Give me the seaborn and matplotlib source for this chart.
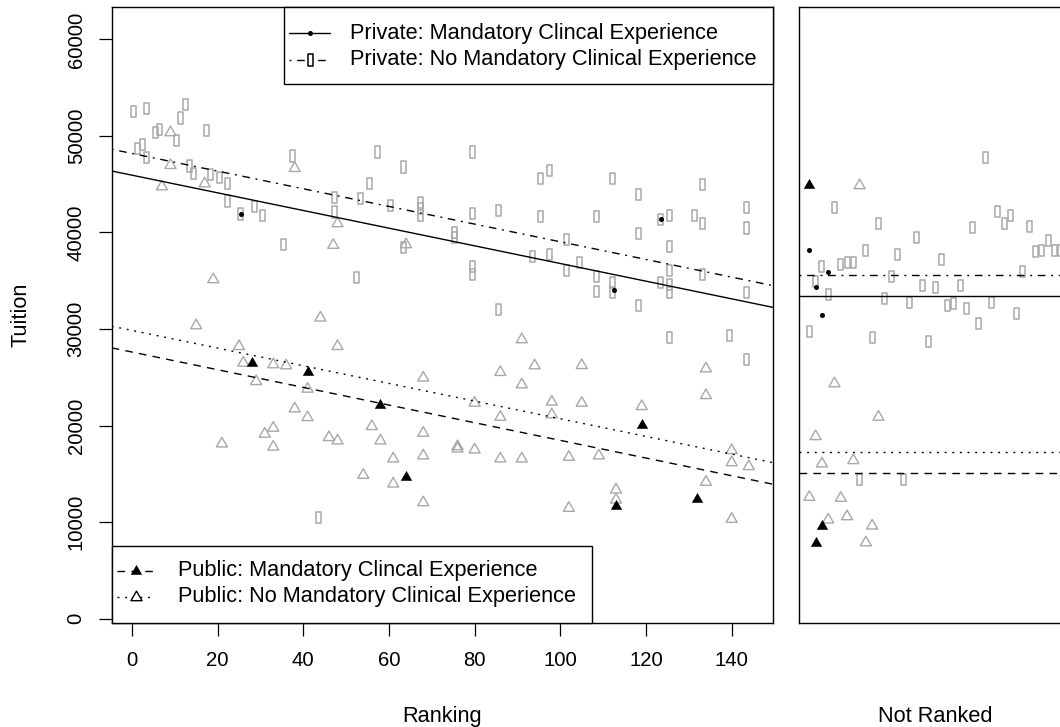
import matplotlib
matplotlib.use("Agg")
import matplotlib.pyplot as plt
from matplotlib.path import Path
from matplotlib.lines import Line2D
from matplotlib.patches import Rectangle
import numpy as np
import seaborn as sns

# --- ranked schools -------------------------------------------------------
priv_mand_rank = [25.5, 112.5, 123.5]
priv_mand_tuition = [41900, 34060, 41360]

priv_nomand_rank = [
    0.4, 3.4, 12.4, 11.3, 6.5, 5.4, 17.4, 10.5, 2.5, 1.4, 3.4, 13.5, 14.4, 18.4,
    20.4, 22.4, 22.4, 25.4, 28.5, 30.5, 35.4, 37.4, 57.4, 63.4, 55.4, 47.4, 53.4,
    60.4, 67.4, 67.4, 67.4, 47.4, 79.4, 79.4, 85.5, 95.4, 97.4, 95.4, 75.4, 75.4,
    63.4, 79.4, 79.4, 52.4, 85.5, 93.4, 97.4, 112.3, 118.3, 133.3, 108.4, 123.5,
    125.4, 131.4, 133.3, 143.4, 143.4, 118.3, 101.4, 104.4, 101.4, 108.4, 108.4,
    112.3, 112.3, 125.4, 125.4, 123.5, 125.4, 125.4, 133.3, 143.4, 118.3, 125.4,
    139.4, 143.4, 43.5]
priv_nomand_tuition = [
    52490, 52870, 53210, 51860, 50690, 50310, 50560, 49550, 49110, 48720, 47760,
    46890, 46100, 45990, 45710, 45060, 43260, 41910, 42670, 41770, 38730, 47920,
    48340, 46780, 45060, 43640, 43540, 42780, 43100, 42500, 41800, 42120, 48340,
    41980, 42260, 45570, 46410, 41700, 40000, 39460, 38420, 36510, 35650, 35370,
    32020, 37550, 37730, 45570, 43950, 44990, 41640, 41360, 41800, 41800, 40910,
    42600, 40460, 39940, 39280, 36930, 36100, 35410, 33920, 34850, 33810, 38520,
    36030, 34850, 34580, 33750, 35620, 33750, 32470, 29090, 29330, 26840, 10480]

pub_mand_rank = [28, 41, 58, 64, 113, 119, 132]
pub_mand_tuition = [26490, 25520, 22170, 14630, 11720, 20020, 12390]

pub_nomand_rank = [
    9, 9, 7, 17, 38, 19, 48, 47, 44, 64, 15, 25, 48, 26, 33, 36, 29, 41, 38, 41,
    33, 31, 21, 33, 46, 48, 56, 58, 54, 61, 61, 91, 86, 94, 105, 68, 91, 134, 134,
    80, 98, 105, 86, 98, 119, 68, 76, 76, 80, 68, 86, 91, 102, 109, 140, 140, 144,
    134, 113, 113, 68, 102, 140]
pub_nomand_tuition = [
    50350, 46960, 44750, 45060, 46650, 35130, 40930, 38690, 31160, 38750, 30360,
    28210, 28210, 26490, 26320, 26210, 24580, 23790, 21750, 20850, 19750, 19130,
    18120, 17790, 18780, 18430, 19920, 18430, 14870, 16570, 13970, 28910, 25520,
    26210, 26240, 24940, 24240, 25900, 23130, 22340, 22450, 22340, 20880, 21130,
    21990, 19230, 17840, 17600, 17500, 16880, 16570, 16570, 16740, 16880, 17430,
    16180, 15770, 14150, 13350, 12310, 12030, 11450, 10310]

# --- unranked schools (plotted in order within each group) ----------------
unr_priv_mand = [38140, 34340, 31500, 35930]
unr_priv_nomand = [
    29770, 34890, 36450, 33580, 42630, 36690, 36860, 36930, 14390, 38140, 29090,
    40910, 33160, 35410, 37730, 14390, 32720, 39520, 34540, 28730, 34270, 37210,
    32470, 32610, 34510, 32130, 40500, 30540, 47760, 32720, 42160, 40910, 41800,
    31580, 36000, 40660, 38010, 38170, 39180, 38170, 38170]
unr_pub_mand = [44870, 7880, 9620]
unr_pub_nomand = [12590, 18880, 16050, 10240, 24350, 12490, 10580, 16390,
                  44870, 7880, 9620, 20890]

# --- fitted model: common ranking slope, one intercept per group -----------
groups = ["priv_mand", "priv_nomand", "pub_mand", "pub_nomand"]
fit_slope = -91.5
fit_intercepts = [45938, 48188, 27618, 29858]
unranked_levels = [33420, 35600, 15060, 17300]

labels = ["Private: Mandatory Clincal Experience",
          "Private: No Mandatory Clinical Experience",
          "Public: Mandatory Clincal Experience",
          "Public: No Mandatory Clinical Experience"]

GRAY = "#a8a8a8"
FS_TICK = 14.6
FS_TEXT = 15.7
rect_marker = Path([(-0.45, -1), (0.45, -1), (0.45, 1), (-0.45, 1), (-0.45, -1)],
                   closed=True)
tri_marker = Path([(-1, -0.577), (1, -0.577), (0, 1.155), (-1, -0.577)], closed=True)
dashes = {"priv_mand": "-",
          "priv_nomand": (0, (1.4, 4.1, 5.5, 4.1)),
          "pub_mand": (0, (5.5, 4.5)),
          "pub_nomand": (0, (1.4, 4.1))}

sns.set_style("ticks", {"axes.edgecolor": "black", "xtick.color": "black",
                        "ytick.color": "black", "text.color": "black"})
plt.rcParams["font.family"] = ["Liberation Sans", "DejaVu Sans"]

fig = plt.figure(figsize=(10.6, 7.27), dpi=100)
ax1 = fig.add_axes([0.10538, 0.14347, 0.62415, 0.84649])
ax2 = fig.add_axes([0.75406, 0.14347, 0.25604, 0.84649])


def points(ax, x, y, kind):
    if kind == "priv_mand":
        sns.scatterplot(x=x, y=y, ax=ax, marker="o", s=13, color="black",
                        linewidth=0, legend=False, zorder=3)
    elif kind == "priv_nomand":
        sns.scatterplot(x=x, y=y, ax=ax, marker=rect_marker, s=64, facecolor="none",
                        edgecolor=GRAY, linewidth=1.1, legend=False, zorder=2)
    elif kind == "pub_mand":
        sns.scatterplot(x=x, y=y, ax=ax, marker=tri_marker, s=90, color="black",
                        linewidth=0, legend=False, zorder=3)
    else:
        sns.scatterplot(x=x, y=y, ax=ax, marker=tri_marker, s=84, facecolor="none",
                        edgecolor=GRAY, linewidth=1.0, legend=False, zorder=2)


ranked = {"priv_mand": (priv_mand_rank, priv_mand_tuition),
          "priv_nomand": (priv_nomand_rank, priv_nomand_tuition),
          "pub_mand": (pub_mand_rank, pub_mand_tuition),
          "pub_nomand": (pub_nomand_rank, pub_nomand_tuition)}
unranked = {"priv_mand": unr_priv_mand, "priv_nomand": unr_priv_nomand,
            "pub_mand": unr_pub_mand, "pub_nomand": unr_pub_nomand}

XLIM = (-4.72, 149.72)
YLIM = (-414, 63323)

for g in ["priv_nomand", "pub_nomand", "priv_mand", "pub_mand"]:
    points(ax1, *ranked[g], g)
    vals = unranked[g]
    points(ax2, np.arange(1, len(vals) + 1), vals, g)

xs = np.array(XLIM)
for g, b, lvl in zip(groups, fit_intercepts, unranked_levels):
    ax1.plot(xs, b + fit_slope * xs, color="black", lw=1.0, linestyle=dashes[g], zorder=4)
    ax2.axhline(lvl, color="black", lw=1.0, linestyle=dashes[g], zorder=4)

ax1.set_xlim(*XLIM)
ax1.set_ylim(*YLIM)
ax1.set_xticks(range(0, 141, 20))
ax1.set_yticks(range(0, 60001, 10000))
ax1.set_yticklabels([str(v) for v in range(0, 60001, 10000)], rotation=90, va="center")
ax1.tick_params(axis="both", direction="out", length=9.2, width=0.9, labelsize=FS_TICK)
ax1.tick_params(axis="x", pad=11)
ax1.tick_params(axis="y", pad=9.5)
ax1.set_xlabel("")
ax1.set_ylabel("")

ax2.set_xlim(-0.6, 42.6)
ax2.set_ylim(*YLIM)
ax2.set_xticks([])
ax2.set_yticks([])
ax2.set_xlabel("")
ax2.set_ylabel("")

for ax in (ax1, ax2):
    for s in ax.spines.values():
        s.set_linewidth(1.0)
        s.set_color("black")


def box_legend(ax, box, rows, hx, tx):
    x0, y0, x1, y1 = box
    ax.add_patch(Rectangle((x0, y0), x1 - x0, y1 - y0, transform=ax.transAxes,
                           facecolor="white", edgecolor="black", lw=1.0,
                           zorder=5, clip_on=False))
    for y, g, label in rows:
        ax.add_line(Line2D(hx, [y, y], transform=ax.transAxes, color="black",
                           lw=1.0, linestyle=dashes[g], zorder=6))
        mx = [sum(hx) / 2]
        if g == "priv_mand":
            mk = dict(marker="o", ms=3.6, mfc="black", mec="black", mew=0)
        elif g == "priv_nomand":
            mk = dict(marker=rect_marker, ms=8, mfc="white", mec="black", mew=1.1)
        elif g == "pub_mand":
            mk = dict(marker=tri_marker, ms=9.5, mfc="black", mec="black", mew=0)
        else:
            mk = dict(marker=tri_marker, ms=9.2, mfc="white", mec="black", mew=1.0)
        ax.add_line(Line2D(mx, [y], transform=ax.transAxes, linestyle="none",
                           zorder=7, **mk))
        ax.text(tx, y, label, transform=ax.transAxes, va="center", ha="left",
                fontsize=FS_TEXT, zorder=7)


box_legend(ax1, (0.2604, 0.8759, 1.0, 1.0),
           [(0.9582, "priv_mand", labels[0]), (0.9144, "priv_nomand", labels[1])],
           [0.268, 0.330], 0.3602)
box_legend(ax1, (0.0, 0.0, 0.7264, 0.1251),
           [(0.0845, "pub_mand", labels[2]), (0.0422, "pub_nomand", labels[3])],
           [0.008, 0.0654], 0.1002)

fig.text(21 / 1060, 1 - 315 / 727, "Tuition", rotation=90, ha="center",
         va="center", fontsize=FS_TEXT)
fig.text(442.5 / 1060, (727 - 721.7) / 727, "Ranking", ha="center",
         va="baseline", fontsize=FS_TEXT)
fig.text(935 / 1060, (727 - 721.7) / 727, "Not Ranked", ha="center",
         va="baseline", fontsize=FS_TEXT)

fig.savefig("out.png", dpi=100)
